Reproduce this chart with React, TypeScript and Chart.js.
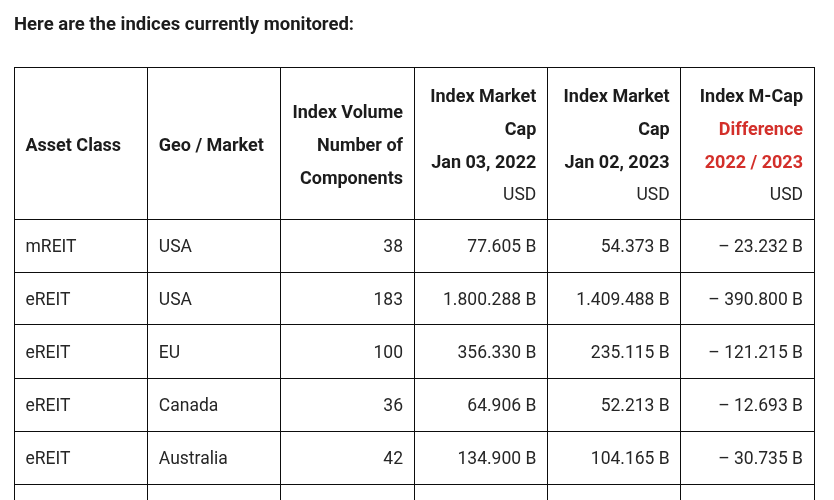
import React, { useEffect, useRef } from 'react';
import { Chart, registerables } from 'chart.js';

Chart.register(...registerables);

// ---------- data ----------
const TITLE = 'Here are the indices currently monitored:';
const headerLines: string[][] = [
  ['Asset Class'],
  ['Geo / Market'],
  ['Index Volume', 'Number of', 'Components'],
  ['Index Market', 'Cap', 'Jan 03, 2022', 'USD'],
  ['Index Market', 'Cap', 'Jan 02, 2023', 'USD'],
  ['Index M-Cap', 'Difference', '2022 / 2023', 'USD'],
];
const assetClass = ['mREIT', 'eREIT', 'eREIT', 'eREIT', 'eREIT'];
const geoMarket = ['USA', 'USA', 'EU', 'Canada', 'Australia'];
const components = [38, 183, 100, 36, 42];
// market cap in millions USD (displayed as "x.xxx B" with dot grouping)
const mcap2022 = [77605, 1800288, 356330, 64906, 134900];
const mcap2023 = [54373, 1409488, 235115, 52213, 104165];
const mcapDiff = [-23232, -390800, -121215, -12693, -30735];

// ---------- styling ----------
const FONT = 'Roboto, "Noto Sans", sans-serif';
const TEXT = '#1c1c1c';
const BODY = '#262626';
const RED = '#d32f2a';
const LINE = '#0d0d0d';
const redHeader = new Set(['Difference', '2022 / 2023']);
const normalHeader = new Set(['USD']);
const leftAligned = [true, true, false, false, false, false];
const HEADER_SPAN = 152 / 53; // header height in row units
const Y_MAX = 433 / 53;

const fmt = (v: number) => {
  const s = Math.abs(v).toLocaleString('de-DE') + ' B';
  return v < 0 ? '\u2013 ' + s : s;
};

const columns: string[][] = [
  assetClass,
  geoMarket,
  components.map((c) => String(c)),
  mcap2022.map(fmt),
  mcap2023.map(fmt),
  mcapDiff.map(fmt),
];

const tablePlugin = {
  id: 'tablePlugin',
  afterDraw(chart: any) {
    const { ctx, chartArea, scales } = chart;
    const xs = scales.x;
    const ys = scales.y;
    ctx.save();
    // title
    ctx.fillStyle = TEXT;
    ctx.font = `bold 18.5px ${FONT}`;
    ctx.textAlign = 'left';
    ctx.textBaseline = 'alphabetic';
    ctx.fillText(TITLE, chartArea.left, 30);

    // grid lines
    ctx.strokeStyle = LINE;
    ctx.lineWidth = 1;
    ctx.beginPath();
    for (let c = 0; c <= columns.length; c++) {
      const px = Math.floor(xs.getPixelForValue(c)) + 0.5;
      ctx.moveTo(px, chartArea.top);
      ctx.lineTo(px, chartArea.bottom);
    }
    const bounds = [0];
    for (let r = 0; HEADER_SPAN + r <= Y_MAX; r++) bounds.push(HEADER_SPAN + r);
    bounds.forEach((v) => {
      const py = Math.floor(ys.getPixelForValue(v)) + 0.5;
      ctx.moveTo(Math.floor(xs.getPixelForValue(0)), py);
      ctx.lineTo(Math.floor(xs.getPixelForValue(columns.length)) + 1, py);
    });
    ctx.stroke();

    // header
    const hc = ys.getPixelForValue(HEADER_SPAN / 2) + 3.5;
    const LH = 33;
    headerLines.forEach((lines, c) => {
      const left = xs.getPixelForValue(c);
      const right = xs.getPixelForValue(c + 1);
      const tx = leftAligned[c] ? left + 11.5 : right - 11;
      ctx.textAlign = leftAligned[c] ? 'left' : 'right';
      ctx.textBaseline = 'middle';
      lines.forEach((ln, i) => {
        const y = hc + (i - (lines.length - 1) / 2) * LH;
        const normal = normalHeader.has(ln);
        ctx.font = `${normal ? 'normal' : 'bold'} ${normal ? 17.5 : 18}px ${FONT}`;
        ctx.fillStyle = redHeader.has(ln) ? RED : normal ? BODY : TEXT;
        ctx.fillText(ln, tx, y);
      });
    });

    // body
    ctx.font = `normal 17.5px ${FONT}`;
    ctx.fillStyle = BODY;
    columns.forEach((vals, c) => {
      const left = xs.getPixelForValue(c);
      const right = xs.getPixelForValue(c + 1);
      const tx = leftAligned[c] ? left + 11.5 : right - 11;
      ctx.textAlign = leftAligned[c] ? 'left' : 'right';
      ctx.textBaseline = 'middle';
      vals.forEach((v, r) => {
        const y = ys.getPixelForValue(HEADER_SPAN + r + 0.5) + 2;
        ctx.fillText(v, tx, y);
      });
    });
    ctx.restore();
  },
};

export default function App() {
  const ref = useRef<HTMLCanvasElement | null>(null);
  useEffect(() => {
    if (!ref.current) return;
    const points: { x: number; y: number }[] = [];
    columns.forEach((vals, c) => vals.forEach((_, r) => points.push({ x: c + 0.5, y: HEADER_SPAN + r + 0.5 })));
    const chart = new Chart(ref.current, {
      type: 'scatter',
      data: { datasets: [{ data: points, pointRadius: 0, pointHoverRadius: 0 }] },
      options: {
        animation: false,
        responsive: false,
        events: [],
        layout: { padding: { left: 14, right: 20, top: 67, bottom: 0 } },
        plugins: { legend: { display: false }, tooltip: { enabled: false }, title: { display: false } },
        scales: {
          x: { type: 'linear', min: 0, max: columns.length, display: false },
          y: { type: 'linear', min: 0, max: Y_MAX, reverse: true, display: false },
        },
      },
      plugins: [tablePlugin],
    });
    return () => chart.destroy();
  }, []);
  return (
    <div style={{ position: 'fixed', left: 0, top: 0, width: 834, height: 500, background: '#fff' }}>
      <canvas ref={ref} width={834} height={500} style={{ display: 'block' }} />
    </div>
  );
}
